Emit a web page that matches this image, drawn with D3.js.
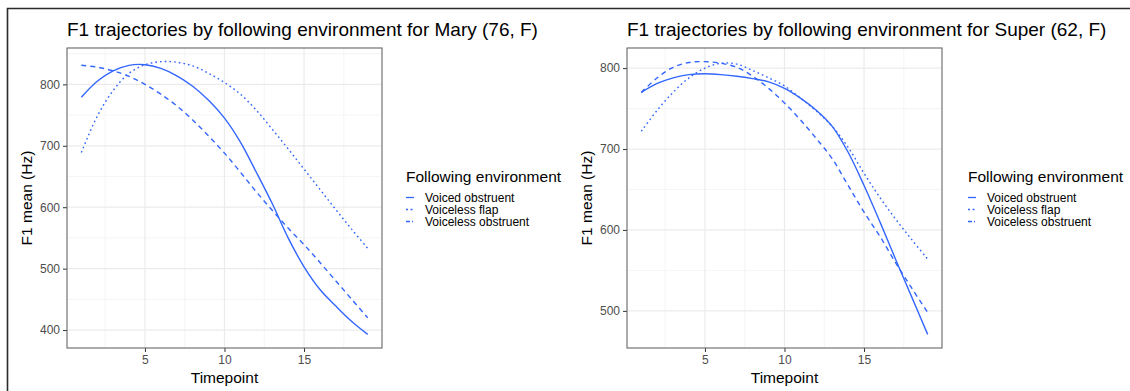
<!DOCTYPE html>
<html>
<head>
<meta charset="utf-8">
<script src="https://cdn.jsdelivr.net/npm/d3@7"></script>
<style>
  html, body { margin: 0; padding: 0; background: #fff; }
  svg { display: block; font-family: "Liberation Sans", Arial, Helvetica, sans-serif; }
</style>
</head>
<body>
<svg id="chart" width="1130" height="391"></svg>
<script>
// Timepoints shared by both speakers
const timepoints = [1, 2, 3, 4, 5, 6, 7, 8, 9, 10, 11, 12, 13, 14, 15, 16, 17, 18, 19];

// Following-environment categories (legend order)
const environments = ["Voiced obstruent", "Voiceless flap", "Voiceless obstruent"];

// Smoothed F1 means (Hz), speaker Mary
const maryVoicedObstruent    = [779, 805, 822, 831, 832, 826, 814, 797, 774, 745, 706, 657, 606, 550, 503, 466, 439, 414, 393];
const maryVoicelessFlap      = [689, 748, 790, 818, 832, 837, 836, 830, 818, 803, 784, 758, 727, 695, 662, 629, 596, 564, 533];
const maryVoicelessObstruent = [831, 828, 822, 813, 800, 784, 765, 742, 716, 688, 657, 625, 595, 566, 539, 510, 480, 450, 420];

// Smoothed F1 means (Hz), speaker Super
const superVoicedObstruent    = [770, 781, 788, 792, 793, 792, 790, 787, 783, 775, 763, 748, 728, 696, 655, 610, 563, 517, 471];
const superVoicelessFlap      = [722, 748, 770, 788, 800, 806, 805, 797, 788, 778, 763, 747, 728, 702, 670, 640, 613, 588, 564];
const superVoicelessObstruent = [770, 788, 801, 807, 808, 806, 801, 790, 775, 757, 736, 713, 688, 655, 622, 592, 559, 528, 498];

// Axis ticks
const xTicks = [5, 10, 15];
const xMinorTicks = [2.5, 7.5, 12.5, 17.5];
const maryYTicks = [400, 500, 600, 700, 800];
const maryYMinor = [450, 550, 650, 750, 850];
const superYTicks = [500, 600, 700, 800];
const superYMinor = [550, 650, 750];

const panels = [
  {
    title: "F1 trajectories by following environment for Mary (76, F)",
    series: [maryVoicedObstruent, maryVoicelessFlap, maryVoicelessObstruent],
    yTicks: maryYTicks, yMinor: maryYMinor,
    left: 67, right: 382, legendX: 406
  },
  {
    title: "F1 trajectories by following environment for Super (62, F)",
    series: [superVoicedObstruent, superVoicelessFlap, superVoicelessObstruent],
    yTicks: superYTicks, yMinor: superYMinor,
    left: 627, right: 942, legendX: 968
  }
];

const lineColor = "#3366FF";
const dashes = [null, "1.7,3", "5,4"];
const legendDashes = [null, "2,2.5", "4,2,1,1"];
const plotTop = 48, plotBottom = 348;

const svg = d3.select("#chart");

// Outer frame (top and left rules)
svg.append("path")
  .attr("d", "M7.5,391 L7.5,8.5 L1130,8.5")
  .attr("fill", "none")
  .attr("stroke", "#2b2b2b")
  .attr("stroke-width", 1.6);

panels.forEach(p => {
  const g = svg.append("g");

  // ggplot-style 5% expansion of the data range
  const xs = d3.extent(timepoints);
  const xPad = (xs[1] - xs[0]) * 0.05;
  const x = d3.scaleLinear().domain([xs[0] - xPad, xs[1] + xPad]).range([p.left, p.right]);

  const all = p.series.flat();
  const ys = d3.extent(all);
  const yPad = (ys[1] - ys[0]) * 0.05;
  const y = d3.scaleLinear().domain([ys[0] - yPad, ys[1] + yPad]).range([plotBottom, plotTop]);

  // Minor grid
  g.append("g").selectAll("line").data(xMinorTicks).join("line")
    .attr("x1", d => x(d)).attr("x2", d => x(d))
    .attr("y1", plotTop).attr("y2", plotBottom)
    .attr("stroke", "#f2f2f2").attr("stroke-width", 0.8);
  g.append("g").selectAll("line").data(p.yMinor).join("line")
    .attr("x1", p.left).attr("x2", p.right)
    .attr("y1", d => y(d)).attr("y2", d => y(d))
    .attr("stroke", "#f2f2f2").attr("stroke-width", 0.8);

  // Major grid
  g.append("g").selectAll("line").data(xTicks).join("line")
    .attr("x1", d => x(d)).attr("x2", d => x(d))
    .attr("y1", plotTop).attr("y2", plotBottom)
    .attr("stroke", "#ebebeb").attr("stroke-width", 1.2);
  g.append("g").selectAll("line").data(p.yTicks).join("line")
    .attr("x1", p.left).attr("x2", p.right)
    .attr("y1", d => y(d)).attr("y2", d => y(d))
    .attr("stroke", "#ebebeb").attr("stroke-width", 1.2);

  // Axes
  const xAxis = g.append("g")
    .attr("transform", `translate(0,${plotBottom})`)
    .call(d3.axisBottom(x).tickValues(xTicks).tickSize(4).tickPadding(3));
  const yAxis = g.append("g")
    .attr("transform", `translate(${p.left},0)`)
    .call(d3.axisLeft(y).tickValues(p.yTicks).tickSize(4).tickPadding(3));
  [xAxis, yAxis].forEach(a => {
    a.select(".domain").remove();
    a.selectAll(".tick line").attr("stroke", "#333").attr("stroke-width", 1);
    a.selectAll(".tick text")
      .attr("fill", "#4d4d4d")
      .style("font-size", "12px")
      .style("font-family", "'Liberation Sans', Arial, sans-serif");
  });

  // Smoothed trajectories
  const line = d3.line()
    .x((d, i) => x(timepoints[i]))
    .y(d => y(d))
    .curve(d3.curveCatmullRom.alpha(0.5));
  p.series.forEach((s, i) => {
    g.append("path")
      .datum(s)
      .attr("d", line)
      .attr("fill", "none")
      .attr("stroke", lineColor)
      .attr("stroke-width", 1.4)
      .attr("stroke-dasharray", dashes[i]);
  });

  // Panel border
  g.append("rect")
    .attr("x", p.left).attr("y", plotTop)
    .attr("width", p.right - p.left).attr("height", plotBottom - plotTop)
    .attr("fill", "none").attr("stroke", "#666").attr("stroke-width", 1.1);

  // Title
  g.append("text")
    .attr("x", p.left).attr("y", 36)
    .attr("fill", "#000")
    .style("font-size", "19px")
    .text(p.title);

  // Axis titles
  g.append("text")
    .attr("x", (p.left + p.right) / 2).attr("y", 383)
    .attr("text-anchor", "middle")
    .style("font-size", "15.5px")
    .text("Timepoint");
  g.append("text")
    .attr("transform", `translate(${p.left - 35},${(plotTop + plotBottom) / 2}) rotate(-90)`)
    .attr("text-anchor", "middle")
    .style("font-size", "15.5px")
    .text("F1 mean (Hz)");

  // Legend
  const lg = g.append("g").attr("transform", `translate(${p.legendX},0)`);
  lg.append("text")
    .attr("x", 0).attr("y", 182)
    .style("font-size", "15.5px")
    .text("Following environment");
  environments.forEach((name, i) => {
    const yy = 197.5 + i * 12;
    lg.append("line")
      .attr("x1", 0).attr("x2", 8)
      .attr("y1", yy).attr("y2", yy)
      .attr("stroke", lineColor).attr("stroke-width", 1.3)
      .attr("stroke-dasharray", legendDashes[i]);
    lg.append("text")
      .attr("x", 19).attr("y", yy + 4)
      .style("font-size", "12px")
      .attr("textLength", null)
      .text(name);
  });
});
</script>
</body>
</html>
